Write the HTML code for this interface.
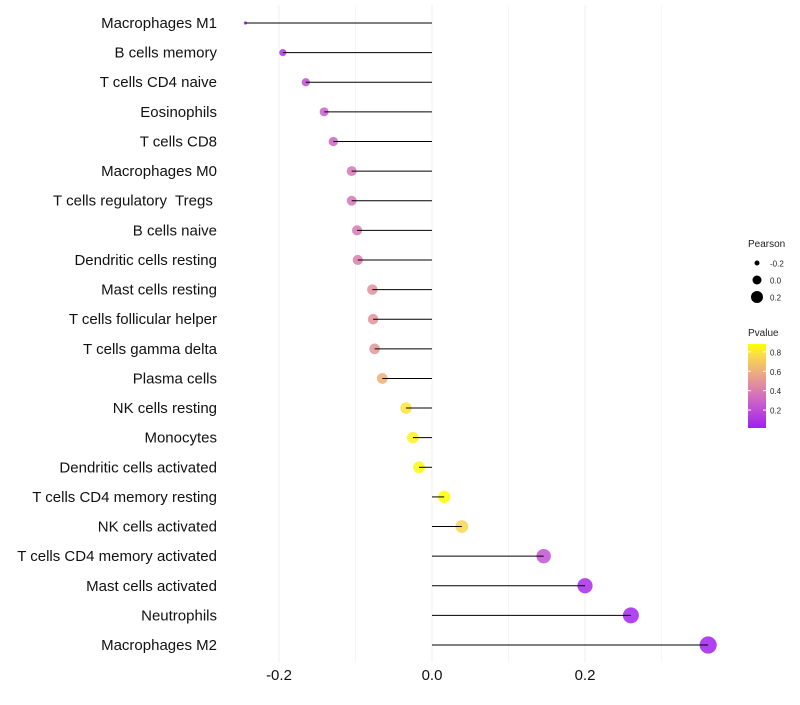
<!DOCTYPE html>
<html><head><meta charset="utf-8"><style>body{margin:0;background:#fff}svg{font-family:"Liberation Sans",sans-serif}</style></head>
<body>
<svg id="c" width="800" height="700"></svg>
<script>
const categories=["Macrophages M1","B cells memory","T cells CD4 naive","Eosinophils","T cells CD8","Macrophages M0","T cells regulatory  Tregs ","B cells naive","Dendritic cells resting","Mast cells resting","T cells follicular helper","T cells gamma delta","Plasma cells","NK cells resting","Monocytes","Dendritic cells activated","T cells CD4 memory resting","NK cells activated","T cells CD4 memory activated","Mast cells activated","Neutrophils","Macrophages M2"];
const pearson=[-0.244,-0.195,-0.165,-0.141,-0.129,-0.105,-0.105,-0.098,-0.097,-0.078,-0.077,-0.075,-0.065,-0.034,-0.025,-0.017,0.016,0.039,0.146,0.2,0.26,0.361];
const pvalue=[0.03,0.1,0.2,0.28,0.3,0.37,0.37,0.38,0.4,0.47,0.48,0.49,0.6,0.8,0.85,0.88,0.9,0.75,0.22,0.05,0.02,0.01];
const xTicks=[-0.2,0,0.2];
const xTickLabels=["-0.2","0.0","0.2"];
const pTicks=[0.2,0.4,0.6,0.8];
const sizeLegend=[-0.2,0,0.2];
const NS="http://www.w3.org/2000/svg",svg=document.getElementById('c');
function el(t,a,p){const e=document.createElementNS(NS,t);for(const k in a)e.setAttribute(k,a[k]);(p||svg).appendChild(e);return e;}
const xs=v=>432+v*765;
const ys=i=>23+i*29.62;
const rs=v=>1.6+7*Math.sqrt(Math.max(0,(v+0.244)/0.605));
const stops=[[0,[160,32,240]],[0.3,[205,100,200]],[0.5,[230,150,150]],[0.75,[248,215,80]],[0.9,[255,255,0]]];
function col(p){p=Math.max(0,Math.min(0.9,p));for(let i=1;i<stops.length;i++){if(p<=stops[i][0]){const a=stops[i-1],b=stops[i],t=(p-a[0])/(b[0]-a[0]);const c=a[1].map((v,k)=>Math.round(v+(b[1][k]-v)*t));return `rgb(${c})`;}}return 'rgb(255,255,0)';}
for(let v=-0.2;v<=0.31;v+=0.1){const g=el('line',{x1:xs(v),x2:xs(v),y1:5,y2:662,stroke:'#eee','stroke-width':Math.abs(Math.round(v*10))%2==0?0.9:0.5});

}
xTicks.forEach((v,i)=>{const t=el('text',{x:xs(v),y:680,'text-anchor':'middle','font-size':15,fill:'#111'});t.textContent=xTickLabels[i];

});
categories.forEach((c,i)=>{const y=ys(i);
const t=el('text',{x:217,y:y+5,'text-anchor':'end','font-size':15,fill:'#111'});t.textContent=c;t.style.whiteSpace='pre';


const d=el('circle',{cx:xs(pearson[i]),cy:y,r:rs(pearson[i]),fill:col(pvalue[i]),'fill-opacity':0.85});


const l=el('line',{x1:xs(0),x2:xs(pearson[i]),y1:y,y2:y,stroke:'#000','stroke-width':1});

});
const lt=el('text',{x:748,y:247,'font-size':10,fill:'#222'});lt.textContent='Pearson';

sizeLegend.forEach((v,i)=>{const y=263+i*17;const c=el('circle',{cx:757,cy:y,r:[2.5,4.5,6][i],fill:'#000'});

const t=el('text',{x:770,y:y+3.5,'font-size':8,fill:'#222'});t.textContent=v==0?'0.0':String(v);
});
const pt=el('text',{x:748,y:336,'font-size':10,fill:'#222'});pt.textContent='Pvalue';

const defs=el('defs',{});const lg=el('linearGradient',{id:'g',x1:0,y1:1,x2:0,y2:0},defs);
stops.forEach(s=>el('stop',{offset:(s[0]-0.015)/(0.88-0.015),'stop-color':`rgb(${s[1]})`},lg));
const bar=el('rect',{x:748,y:344,width:18,height:84,fill:'url(#g)'});

const py=p=>428-(p-0.015)*97;
pTicks.forEach(p=>{el('line',{x1:748,x2:751,y1:py(p),y2:py(p),stroke:'#fff'});el('line',{x1:763,x2:766,y1:py(p),y2:py(p),stroke:'#fff'});
const t=el('text',{x:770,y:py(p)+3.5,'font-size':8,fill:'#222'});t.textContent=p.toFixed(1);
});
</script>
</body></html>
